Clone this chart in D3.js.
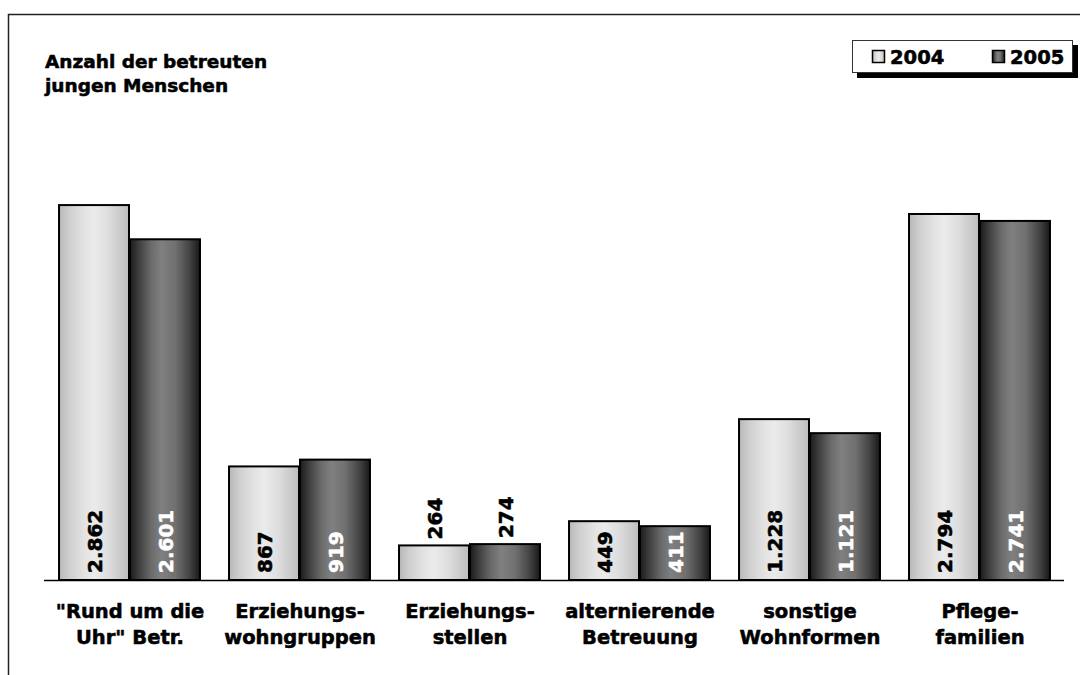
<!DOCTYPE html>
<html><head><meta charset="utf-8">
<script src="https://cdn.jsdelivr.net/npm/d3@7"></script>
<style>body{margin:0;background:#fff}svg{display:block}text{font-family:"DejaVu Sans",Verdana,sans-serif;font-weight:700;stroke-width:0.55px;stroke-linejoin:round}</style>
</head><body><svg id="c" width="1080" height="675"></svg>
<script>
const categories = [["\"Rund um die","Uhr\" Betr."],["Erziehungs-","wohngruppen"],["Erziehungs-","stellen"],["alternierende","Betreuung"],["sonstige","Wohnformen"],["Pflege-","familien"]];
const series = ["2004","2005"];
const values2004 = [2862, 867, 264, 449, 1228, 2794];
const values2005 = [2601, 919, 274, 411, 1121, 2741];
const titleLines = ["Anzahl der betreuten","jungen Menschen"];

const svg = d3.select("#c");
const defs = svg.append("defs");
function grad(id, stops){
  const g = defs.append("linearGradient").attr("id", id).attr("x1","0").attr("x2","1").attr("y1","0").attr("y2","0");
  stops.forEach(([o,c])=>g.append("stop").attr("offset",o).attr("stop-color",c));
}
grad("g2004", [[0,"#b8b8b8"],[0.15,"#cfcfcf"],[0.35,"#e2e2e2"],[0.5,"#ebebeb"],[0.7,"#dedede"],[0.9,"#c8c8c8"],[1,"#bcbcbc"]]);
grad("g2005", [[0,"#1a1a1a"],[0.12,"#3c3c3c"],[0.3,"#6a6a6a"],[0.45,"#808080"],[0.65,"#707070"],[0.85,"#444"],[1,"#181818"]]);

// frame
svg.append("rect").attr("x",8.5).attr("y",14.5).attr("width",1200).attr("height",800)
  .attr("fill","none").attr("stroke","#222").attr("stroke-width",1.5);

const x0 = d3.scaleBand().domain(d3.range(categories.length)).range([44,1064]).paddingInner(0.165).paddingOuter(0.0825);
const x1 = d3.scaleBand().domain(series).range([0,x0.bandwidth()]);
const y = d3.scaleLinear().domain([0,3000]).range([580,187]);
const fmt = d3.formatLocale({decimal:",",thousands:".",grouping:[3],currency:["","€"]}).format(",d");

const data = [];
categories.forEach((c,i)=>{
  data.push({i, s:"2004", v:values2004[i]});
  data.push({i, s:"2005", v:values2005[i]});
});

const g = svg.append("g");
g.selectAll("rect.bar").data(data).join("rect").attr("class","bar")
  .attr("x", d=>x0(d.i)+x1(d.s)+1)
  .attr("y", d=>y(d.v))
  .attr("width", x1.bandwidth()-1)
  .attr("height", d=>y(0)-y(d.v))
  .attr("fill", d=>d.s==="2004"?"url(#g2004)":"url(#g2005)")
  .attr("stroke","#000").attr("stroke-width",2);

// baseline
svg.append("line").attr("x1",44).attr("x2",1064).attr("y1",y(0)+0.5).attr("y2",y(0)+0.5).attr("stroke","#000").attr("stroke-width",1.5);

// value labels
g.selectAll("text.val").data(data).join("text").attr("class","val")
  .each(function(d){
    const cx = x0(d.i)+x1(d.s)+x1.bandwidth()/2+1;
    const h = y(0)-y(d.v);
    const inside = h > 50;
    const ty = inside ? y(0)-7 : y(d.v)-6;
    const col = inside && d.s==="2005" ? "#fff" : "#000";
    d3.select(this).attr("transform",`translate(${cx+7.5},${ty}) rotate(-90)`)
      .attr("text-anchor","start")
      .attr("font-size",20)
      .attr("font-weight",700)
      .attr("fill", col).attr("stroke", col)
      .text(fmt(d.v));
  });

// category labels
const cl = svg.append("g");
categories.forEach((lines,i)=>{
  const t = cl.append("text").attr("x", x0(i)+x0.bandwidth()/2+1).attr("y",618).attr("text-anchor","middle").attr("font-size",19.5).attr("font-weight",700).attr("fill","#000").attr("stroke","#000");
  lines.forEach((l,k)=>t.append("tspan").attr("x", x0(i)+x0.bandwidth()/2+1).attr("dy", k?26:0).text(l));
});

// title
const tt = svg.append("text").attr("x",45).attr("y",68).attr("font-size",18.5).attr("font-weight",700).attr("fill","#000").attr("stroke","#000");
titleLines.forEach((l,k)=>tt.append("tspan").attr("x",45).attr("dy",k?24:0).text(l));

// legend
const lg = svg.append("g");
lg.append("rect").attr("x",857).attr("y",45).attr("width",221).attr("height",33).attr("fill","#000");
lg.append("rect").attr("x",852.5).attr("y",40.5).attr("width",220).attr("height",32).attr("fill","#fff").attr("stroke","#333").attr("stroke-width",1);
const lx = [872, 992];
series.forEach((s,k)=>{
  lg.append("rect").attr("x",lx[k]+0.5).attr("y",50.5).attr("width",12).attr("height",12)
    .attr("fill", k?"url(#g2005)":"url(#g2004)").attr("stroke","#000").attr("stroke-width",1.5);
  lg.append("text").attr("x",lx[k]+18).attr("y",64).attr("font-size",19.5).attr("font-weight",700).attr("fill","#000").attr("stroke","#000").text(s);
});
</script></body></html>
